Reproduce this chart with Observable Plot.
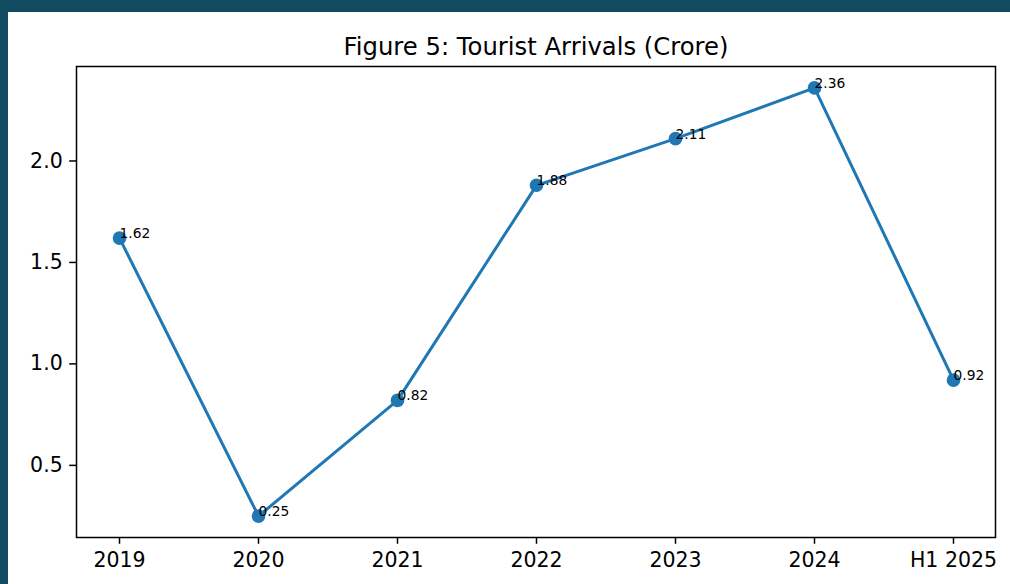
<!DOCTYPE html>
<html>
<head>
<meta charset="utf-8">
<script src="https://cdn.jsdelivr.net/npm/d3@7"></script>
<script src="https://cdn.jsdelivr.net/npm/@observablehq/plot@0.6"></script>
<style>
  html, body { margin: 0; padding: 0; }
  body { background: #114b5f; width: 1010px; height: 584px; overflow: hidden; }
  #chart { position: absolute; left: 8px; top: 12px; width: 1002px; height: 572px; background: #fff; }
  #chart svg { overflow: visible; }
</style>
</head>
<body>
<div id="chart"></div>
<script>
const categories = ["2019", "2020", "2021", "2022", "2023", "2024", "H1 2025"];
const values = [1.62, 0.25, 0.82, 1.88, 2.11, 2.36, 0.92];
const valueLabels = ["1.62", "0.25", "0.82", "1.88", "2.11", "2.36", "0.92"];
const yTicks = [0.5, 1.0, 1.5, 2.0];
const title = "Figure 5: Tourist Arrivals (Crore)";

const data = categories.map((c, i) => ({cat: c, v: values[i], label: valueLabels[i]}));
const lo = d3.min(values), hi = d3.max(values), pad = (hi - lo) * 0.05;

const chart = Plot.plot({
  width: 1002,
  height: 572,
  marginLeft: 68,
  marginRight: 15,
  marginTop: 54,
  marginBottom: 47,
  style: {background: "#fff", fontFamily: "DejaVu Sans", color: "#000", overflow: "visible"},
  x: {type: "point", domain: categories, padding: 0.3, label: null},
  y: {domain: [lo - pad, hi + pad], ticks: yTicks, tickFormat: ".1f", label: null},
  marks: [
    Plot.axisX({tickSize: 6.8, tickPadding: 8.5, fontSize: 20.5, strokeWidth: 1.5, label: null}),
    Plot.axisY({ticks: yTicks, tickFormat: ".1f", tickSize: 6.8, tickPadding: 7, fontSize: 20.5, strokeWidth: 1.5, label: null}),
    Plot.line(data, {x: "cat", y: "v", stroke: "#1f77b4", strokeWidth: 3}),
    Plot.dot(data, {x: "cat", y: "v", r: 6.8, fill: "#1f77b4", stroke: null}),
    Plot.text(data, {x: "cat", y: "v", text: "label", textAnchor: "start", lineAnchor: "bottom", fontSize: 13.8, fill: "#000"}),
    Plot.frame({stroke: "#000", strokeWidth: 1.5}),
    Plot.text([title], {frameAnchor: "top", dy: -11.7, lineAnchor: "bottom", fontSize: 24.3, fill: "#000"})
  ]
});
document.getElementById("chart").appendChild(chart);
</script>
</body>
</html>
